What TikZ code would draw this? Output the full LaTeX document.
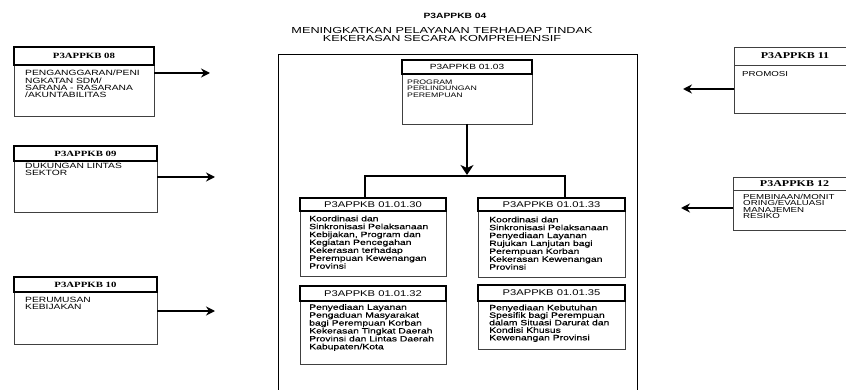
\documentclass[tikz,border=0pt]{standalone}
\usepackage{fontspec}
\usetikzlibrary{arrows.meta}
% horizontally widened faces
\newfontfamily\sx[FakeStretch=1.35]{Liberation Sans}
\newfontfamily\sxd[FakeStretch=1.35,FakeBold=0.4]{Liberation Sans}
\newfontfamily\sxt[FakeStretch=1.45]{Liberation Sans}
\newfontfamily\rx[FakeStretch=1.35]{Liberation Serif}
\newcommand{\fTtl}{\sx\bfseries\fontsize{7.6}{7}\selectfont}
\newcommand{\fSub}{\sxt\fontsize{8.75}{7.8}\selectfont}
\newcommand{\fSide}{\rx\bfseries\fontsize{8}{7}\selectfont}
\newcommand{\fSideR}{\rx\bfseries\fontsize{8.9}{7}\selectfont}
\newcommand{\fLeft}{\sx\fontsize{7.6}{7.4}\selectfont}
\newcommand{\fRight}{\sx\fontsize{7.2}{6.4}\selectfont}
\newcommand{\fProgH}{\sx\fontsize{7.5}{7}\selectfont}
\newcommand{\fProg}{\sx\fontsize{6.5}{6.7}\selectfont}
\newcommand{\fKegH}{\sx\fontsize{8.3}{7}\selectfont}
\newcommand{\fKeg}{\sxd\fontsize{7.7}{7.9}\selectfont}
\newcommand{\fKegB}{\sxd\fontsize{7.7}{7.5}\selectfont}
\tikzset{
  body/.style={draw=black!75, line width=0.7pt, anchor=north west, inner sep=0pt, outer sep=0pt},
  hthick/.style={draw=black, line width=1.8pt, fill=white, anchor=north west, inner sep=0pt, outer sep=0pt},
  hthin/.style={draw=black!75, line width=0.7pt, fill=white, anchor=north west, inner sep=0pt, outer sep=0pt},
  txt/.style={anchor=north west, inner sep=0pt, align=left},
  feed/.style={line width=1.8pt, -{Stealth[length=9pt,width=9pt,inset=3pt]}},
  trunk/.style={line width=2.8pt},
}
\begin{document}
\begin{tikzpicture}[x=1pt,y=-1pt]
\useasboundingbox (0,0) rectangle (846,390);

% title
\node[font=\fTtl] (ttl) at (455,16) {P3APPKB 04};
\node[font=\fSub, align=center] (sub) at (442,34.5) {MENINGKATKAN PELAYANAN TERHADAP TINDAK\\KEKERASAN SECARA KOMPREHENSIF};

% frame of the programme
\draw[line width=0.8pt] (278,395) -- (278,54) -- (637,54) -- (637,395);

% left boxes
\node[body, minimum width=140pt, minimum height=51pt] (b08) at (14,65) {};
\node[hthick, minimum width=140pt, minimum height=18pt, font=\fSide] (h08) at (14,47) {P3APPKB 08};
\node[txt, font=\fLeft] (t08) at (25,70) {PENGANGGARAN/PENI\\NGKATAN SDM/\\SARANA - RASARANA\\/AKUNTABILITAS};

\node[body, minimum width=143pt, minimum height=51pt] (b09) at (14,161) {};
\node[hthick, minimum width=143pt, minimum height=15pt, font=\fSide] (h09) at (14,146) {P3APPKB 09};
\node[txt, font=\fLeft] (t09) at (25,163) {DUKUNGAN LINTAS\\SEKTOR};

\node[body, minimum width=143pt, minimum height=52pt] (b10) at (14,292) {};
\node[hthick, minimum width=143pt, minimum height=15pt, font=\fSide] (h10) at (14,277) {P3APPKB 10};
\node[txt, font=\fLeft] (t10) at (25,296.5) {PERUMUSAN\\KEBIJAKAN};

% right boxes
\node[body, minimum width=122pt, minimum height=48pt] (b11) at (734,65) {};
\node[hthin, minimum width=122pt, minimum height=18pt, font=\fSideR] (h11) at (734,47) {P3APPKB 11};
\node[txt, font=\fRight] (t11) at (742,71.5) {PROMOSI};

\node[body, minimum width=123pt, minimum height=40pt] (b12) at (733,190) {};
\node[hthin, minimum width=123pt, minimum height=13pt, font=\fSideR] (h12) at (733,177) {P3APPKB 12};
\node[txt, font=\fRight] (t12) at (743,194) {PEMBINAAN/MONIT\\ORING/EVALUASI\\MANAJEMEN\\RESIKO};

% programme box
\node[body, minimum width=130pt, minimum height=50pt] (b0103) at (402,74) {};
\node[hthick, minimum width=130pt, minimum height=14pt, font=\fProgH] (h0103) at (402,60) {P3APPKB 01.03};
\node[txt, font=\fProg] (t0103) at (407,79.5) {PROGRAM\\PERLINDUNGAN\\PEREMPUAN};

% activity boxes
\node[body, minimum width=146pt, minimum height=65pt] (b30) at (300,211) {};
\node[hthick, minimum width=146pt, minimum height=13pt, font=\fKegH] (h30) at (300,198) {P3APPKB 01.01.30};
\node[txt, font=\fKeg] (t30) at (309,215.5) {Koordinasi dan\\Sinkronisasi Pelaksanaan\\Kebijakan, Program dan\\Kegiatan Pencegahan\\Kekerasan terhadap\\Perempuan Kewenangan\\Provinsi};

\node[body, minimum width=147pt, minimum height=66pt] (b33) at (478,211) {};
\node[hthick, minimum width=147pt, minimum height=13pt, font=\fKegH] (h33) at (478,198) {P3APPKB 01.01.33};
\node[txt, font=\fKeg] (t33) at (489,216.5) {Koordinasi dan\\Sinkronisasi Pelaksanaan\\Penyediaan Layanan\\Rujukan Lanjutan bagi\\Perempuan Korban\\Kekerasan Kewenangan\\Provinsi};

\node[body, minimum width=146pt, minimum height=63pt] (b32) at (300,301) {};
\node[hthick, minimum width=146pt, minimum height=15pt, font=\fKegH] (h32) at (300,286) {P3APPKB 01.01.32};
\node[txt, font=\fKeg] (t32) at (309,304) {Penyediaan Layanan\\Pengaduan Masyarakat\\bagi Perempuan Korban\\Kekerasan Tingkat Daerah\\Provinsi dan Lintas Daerah\\Kabupaten/Kota};

\node[body, minimum width=147pt, minimum height=48pt] (b35) at (478,301) {};
\node[hthick, minimum width=147pt, minimum height=16pt, font=\fKegH] (h35) at (478,285) {P3APPKB 01.01.35};
\node[txt, font=\fKegB] (t35) at (489,304.5) {Penyediaan Kebutuhan\\Spesifik bagi Perempuan\\dalam Situasi Darurat dan\\Kondisi Khusus\\Kewenangan Provinsi};

% side arrows
\coordinate (a08) at (210,73);
\coordinate (a09) at (215,177);
\coordinate (a10) at (215,311);
\coordinate (a11) at (683,89);
\coordinate (a12) at (681,208);
\draw[feed] (b08.east |- a08) -- (a08);
\draw[feed] (b09.east |- a09) -- (a09);
\draw[feed] (b10.east |- a10) -- (a10);
\draw[feed] (b11.west |- a11) -- (a11);
\draw[feed] (b12.west |- a12) -- (a12);

% tree below the programme
\coordinate (tip) at (467,175);
\coordinate (bl) at (365,176);
\coordinate (br) at (565,176);
\draw[trunk, -{Stealth[length=10pt,width=13pt,inset=3pt]}] (b0103.south) -- (tip);
\draw[trunk] (h30.north -| bl) -- (bl) -- (br) -- (h33.north -| br);
\end{tikzpicture}
\end{document}
